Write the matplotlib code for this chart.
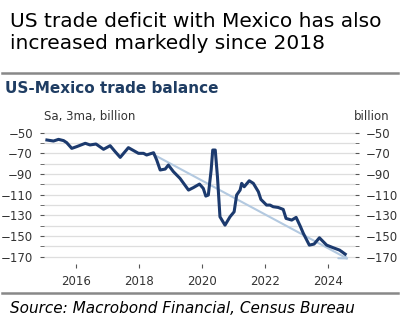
import matplotlib.pyplot as plt
from matplotlib.lines import Line2D

# datos (año decimal, mil millones)
anios = [2015.07, 2015.28, 2015.44, 2015.6, 2015.7, 2015.86, 2016.02, 2016.29, 2016.44, 2016.63,
         2016.87, 2017.08, 2017.24, 2017.4, 2017.66, 2017.98, 2018.14, 2018.24, 2018.46, 2018.56,
         2018.67, 2018.83, 2018.93, 2019.09, 2019.3, 2019.57, 2019.72, 2019.92, 2020.04, 2020.12,
         2020.2, 2020.29, 2020.34, 2020.42, 2020.49, 2020.57, 2020.73, 2020.89, 2021.02, 2021.1,
         2021.21, 2021.26, 2021.34, 2021.5, 2021.63, 2021.79, 2021.87, 2022.05, 2022.16, 2022.26,
         2022.42, 2022.58, 2022.67, 2022.85, 2022.99, 2023.12, 2023.22, 2023.41, 2023.56, 2023.73,
         2023.96, 2024.15, 2024.37, 2024.55]
balanza = [-57.1, -58.1, -56.5, -57.7, -59.7, -65.2, -63.5, -60.3, -61.9, -61.0,
           -66.1, -62.6, -68.4, -73.9, -64.5, -70.0, -70.0, -71.6, -69.4, -76.5,
           -86.1, -85.2, -81.3, -87.7, -94.2, -105.5, -103.2, -99.7, -103.9, -111.3,
           -110.3, -86.1, -66.8, -66.8, -92.6, -131.3, -139.4, -131.3, -126.5, -110.3,
           -105.5, -99.0, -102.3, -96.5, -99.0, -107.1, -114.5, -120.0, -120.0, -121.6,
           -122.3, -124.2, -132.9, -134.5, -131.9, -140.3, -147.4, -158.7, -157.7, -151.6,
           -158.7, -161.0, -163.5, -167.4]
# tendencia (flecha)
flecha_x = [2018.29, 2024.75]
flecha_y = [-68.4, -173.9]

yticks = [-50, -70, -90, -110, -130, -150, -170]
xticks = [2016, 2018, 2020, 2022, 2024]

azul = '#1c3a6e'
gris_txt = '#333333'

fig = plt.figure(figsize=(4.08, 3.26), dpi=100)
ax = fig.add_axes([0.108, 0.19, 0.762, 0.419])

# lineas de la cuadricula
for v in range(-170, -40, 10):
    ax.axhline(v, color='#dedede', linewidth=0.9, zorder=0)

ax.annotate('', xy=(flecha_x[1], flecha_y[1]), xytext=(flecha_x[0], flecha_y[0]),
            arrowprops=dict(arrowstyle='->', color='#b3c9e0', lw=1.5, mutation_scale=14), zorder=1)
ax.plot(anios, balanza, color=azul, linewidth=2.2, zorder=2)

ax.set_xlim(2014.98, 2024.86)
ax.set_ylim(-177, -45)
ax.set_yticks(yticks)
ax.set_yticks(range(-160, -50, 20), minor=True)
ax.set_xticks(xticks)
ax.tick_params(axis='y', which='both', left=True, right=True, labelleft=True, labelright=True,
               length=3, pad=5, color='#555555', labelsize=8.5, labelcolor=gris_txt, direction='out')
ax.tick_params(axis='x', length=3, color='#555555', labelsize=8.5, labelcolor=gris_txt, pad=5)
for s in ax.spines.values():
    s.set_visible(False)

ax.text(0.0, 1.03, 'Sa, 3ma, billion', transform=ax.transAxes, fontsize=8.5, color=gris_txt, ha='left', va='bottom')
ax.text(1.11, 1.03, 'billion', transform=ax.transAxes, fontsize=8.5, color=gris_txt, ha='right', va='bottom')

fig.text(0.025, 0.9, 'US trade deficit with Mexico has also\nincreased markedly since 2018',
         fontsize=14.5, color='black', ha='left', va='center', linespacing=1.15)
fig.add_artist(Line2D([0.005, 0.975], [0.776, 0.776], color='#888888', linewidth=1.8))
fig.text(0.012, 0.73, 'US-Mexico trade balance', fontsize=11, fontweight='bold', color='#1f3d63',
         ha='left', va='center')
fig.add_artist(Line2D([0.005, 0.975], [0.1, 0.1], color='#888888', linewidth=1.8))
fig.text(0.025, 0.053, 'Source: Macrobond Financial, Census Bureau', fontsize=11, style='italic',
         color='black', ha='left', va='center')

plt.savefig('out.png', dpi=100)
